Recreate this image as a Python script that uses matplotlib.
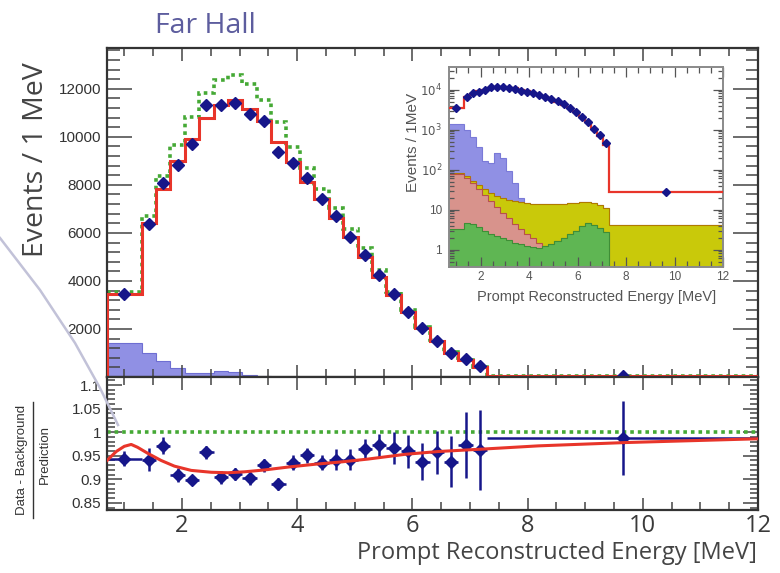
import matplotlib
matplotlib.use("Agg")
import matplotlib.pyplot as plt
import numpy as np
from matplotlib.lines import Line2D
from matplotlib.ticker import FixedLocator, MultipleLocator, LogLocator, FuncFormatter, NullFormatter

plt.rcParams['font.family'] = ['Liberation Sans', 'DejaVu Sans']

# ============================================================
# values
# ============================================================
bin_edges = [0.7, 1.3, 1.55, 1.8, 2.05, 2.3, 2.55, 2.8, 3.05, 3.3, 3.55, 3.8,
             4.05, 4.3, 4.55, 4.8, 5.05, 5.3, 5.55, 5.8, 6.05, 6.3, 6.55, 6.8,
             7.05, 7.3, 12.0]

# events / 1 MeV
data_counts = [3470, 6365, 8085, 8815, 9700, 11310, 11310, 11420, 10960, 10640,
               9380, 8930, 8300, 7420, 6690, 5850, 5080, 4240, 3440, 2700,
               2040, 1510, 1020, 740, 460, 27]
pred_osc = [3470, 6410, 7840, 9000, 9910, 10780, 11310, 11520, 11170, 10680,
            9770, 8960, 8120, 7420, 6620, 5850, 5010, 4170, 3400, 2700,
            2040, 1510, 1020, 700, 420, 27]
pred_noosc = [3530, 6690, 8370, 9660, 10820, 11840, 12360, 12570, 12220, 11520,
              10610, 9560, 8720, 7810, 7040, 6160, 5360, 4450, 3540, 2770,
              2100, 1550, 1040, 720, 430, 28]

# stacked backgrounds (cumulative heights)
stack_blue = [1400, 980, 660, 370, 160, 150, 260, 200, 90, 45,
              20, 14.5, 14, 13.7, 13.5, 13.5, 13.5, 14, 14.5, 15,
              15.4, 15.7, 14.5, 12.7, 11.2, 4.1]
stack_yellow = [80, 68, 53, 41, 32, 26, 22.4, 19.6, 17.8, 16.4,
                15.4, 14.5, 14, 13.7, 13.5, 13.5, 13.5, 14, 14.5, 15,
                15.4, 15.7, 14.5, 12.7, 11.2, 4.1]
stack_pink = [76, 60, 45, 32, 23, 16.4, 11.6, 8.2, 6.0, 4.3,
              3.2, 2.4, 1.9, 1.46, 1.25, 1.4, 1.6, 1.9, 2.4, 3.0,
              3.8, 4.5, 4.1, 3.4, 2.8, 0.0]
stack_green = [3.3, 4.5, 4.3, 3.6, 3.0, 2.5, 2.2, 1.9, 1.7, 1.5,
               1.4, 1.25, 1.15, 1.1, 1.2, 1.4, 1.6, 1.9, 2.4, 3.0,
               3.8, 4.5, 4.1, 3.4, 2.8, 0.0]

# (data - background) / prediction
ratio_vals = [0.944, 0.942, 0.971, 0.910, 0.899, 0.957, 0.904, 0.912, 0.902, 0.930,
              0.890, 0.935, 0.951, 0.935, 0.942, 0.942, 0.964, 0.972, 0.966, 0.960,
              0.937, 0.957, 0.937, 0.973, 0.962, 0.988]
ratio_errs = [0.016, 0.025, 0.018, 0.015, 0.011, 0.014, 0.013, 0.013, 0.014, 0.014,
              0.013, 0.016, 0.016, 0.016, 0.022, 0.022, 0.021, 0.025, 0.034, 0.035,
              0.039, 0.045, 0.054, 0.070, 0.085, 0.078]

# oscillated / unoscillated prediction
curve_E = [0.7, 0.86, 1.0, 1.12, 1.23, 1.41, 1.64, 1.87, 2.16, 2.51, 2.80, 3.09,
           3.44, 3.84, 4.31, 4.77, 5.23, 5.87, 6.45, 7.20, 8.19, 9.70, 12.0]
curve_ratio = [0.940, 0.959, 0.970, 0.974, 0.968, 0.955, 0.940, 0.928, 0.919, 0.915,
               0.914, 0.916, 0.920, 0.926, 0.932, 0.937, 0.943, 0.953, 0.959, 0.964,
               0.971, 0.978, 0.986]

# ============================================================
# colours
# ============================================================
C_DATA = '#16168a'
C_RED = '#e8352a'
C_GREEN = '#45a935'
C_BLUE = '#9090e4'
C_YELLOW = '#c9c90a'
C_PINK = '#d8938c'
C_GFILL = '#5fb653'
C_TICK = '#444444'

edges = np.array(bin_edges)
centres = 0.5 * (edges[:-1] + edges[1:])
half_w = 0.5 * np.diff(edges)

fig = plt.figure(figsize=(7.8, 5.73), dpi=100)
W, H = 780.0, 573.0


def fbox(x0, y0, x1, y1):
    """pixel box (top-left origin) -> figure rect"""
    return [x0 / W, 1 - y1 / H, (x1 - x0) / W, (y1 - y0) / H]


ax_top = fig.add_axes(fbox(107, 48, 758, 377))
ax_bot = fig.add_axes(fbox(107, 377, 758, 510))
ax_in = fig.add_axes(fbox(449, 67, 723, 267))

for ax in (ax_top, ax_bot):
    for s in ax.spines.values():
        s.set_color('#333333')
        s.set_linewidth(1.6)

# --- upper panel ---
ax_top.stairs(stack_blue, edges, fill=True, color=C_BLUE, zorder=1)
ax_top.stairs(stack_blue, edges, baseline=None, color='#6e6ed2', lw=0.8, zorder=1.5)
ax_top.stairs(pred_noosc, edges, baseline=None, color=C_GREEN, lw=2.6,
              linestyle=(0, (1, 1.1)), zorder=2)
ax_top.stairs(pred_osc, edges, color=C_RED, lw=2.2, zorder=3)
ax_top.plot(centres, data_counts, 'D', ms=6, color=C_DATA, zorder=4, clip_on=False)

ax_top.set_xlim(0.7, 12)
ax_top.set_ylim(0, 13700)
ax_top.xaxis.set_major_locator(MultipleLocator(2))
ax_top.xaxis.set_minor_locator(MultipleLocator(0.5))
ax_top.yaxis.set_major_locator(FixedLocator([2000, 4000, 6000, 8000, 10000, 12000]))
ax_top.yaxis.set_minor_locator(MultipleLocator(400))
ax_top.tick_params(which='both', direction='in', top=True, right=True,
                   color=C_TICK, width=1.1, labelbottom=False,
                   labelsize=11, labelcolor='#333333', pad=4)
ax_top.tick_params(axis='y', which='major', length=18)
ax_top.tick_params(axis='y', which='minor', length=9)
ax_top.tick_params(axis='x', which='major', length=9)
ax_top.tick_params(axis='x', which='minor', length=5.5)

# --- ratio panel ---
ax_bot.axhline(1.0, color=C_GREEN, lw=2.6, linestyle=(0, (1, 1.1)), zorder=2)
ax_bot.errorbar(centres, ratio_vals, xerr=half_w, yerr=ratio_errs, fmt='D', ms=6,
                color=C_DATA, ecolor=C_DATA, elinewidth=1.8, capsize=0, zorder=3)
ax_bot.plot(curve_E, curve_ratio, color=C_RED, lw=2.2, zorder=3.5)

ax_bot.set_xlim(0.7, 12)
ax_bot.set_ylim(0.835, 1.117)
ax_bot.xaxis.set_major_locator(MultipleLocator(2))
ax_bot.xaxis.set_minor_locator(MultipleLocator(0.5))
ax_bot.xaxis.set_major_formatter(FuncFormatter(lambda v, _: f'{v:g}'))
ax_bot.yaxis.set_major_locator(FixedLocator([0.85, 0.9, 0.95, 1.0, 1.05, 1.1]))
ax_bot.yaxis.set_minor_locator(MultipleLocator(0.01))
ax_bot.yaxis.set_major_formatter(FuncFormatter(lambda v, _: f'{v:g}'))
ax_bot.tick_params(which='both', direction='in', top=True, right=True,
                   color=C_TICK, width=1.1, labelcolor='#333333')
ax_bot.tick_params(axis='y', which='major', length=11, labelsize=11, pad=4)
ax_bot.tick_params(axis='y', which='minor', length=5.5)
ax_bot.tick_params(axis='x', which='major', length=9, labelsize=17, pad=3,
                   labelfontfamily='Open Sans', labelcolor='#3a3a3a')
ax_bot.tick_params(axis='x', which='minor', length=5.5)

# --- inset (log) ---
ax_in.set_zorder(5)
ax_in.set_facecolor('white')
ax_in.set_yscale('log')
y_low = 0.367
ax_in.set_xlim(0.7, 12)
ax_in.set_ylim(y_low, 36700)
ax_in.axhspan(y_low, 0.79, color='#9c9c9c', zorder=0.5)

layers = [(stack_blue, C_BLUE, '#7a7ad8'),
          (stack_yellow, C_YELLOW, '#b07a00'),
          (stack_pink, C_PINK, '#b8504a'),
          (stack_green, C_GFILL, '#3e8e36')]
for i, (vals, fc, ec) in enumerate(layers):
    v = np.clip(vals, y_low, None)
    ax_in.stairs(v, edges, baseline=y_low, fill=True, color=fc, zorder=1 + i * 0.1)
    ax_in.stairs(v, edges, baseline=None, color=ec, lw=0.8, zorder=1.05 + i * 0.1)

ax_in.stairs(pred_osc, edges, baseline=None, color=C_RED, lw=1.6, zorder=3)
ax_in.plot(centres, data_counts, 'D', ms=4, color=C_DATA, zorder=4)

ax_in.xaxis.set_major_locator(MultipleLocator(2))
ax_in.xaxis.set_minor_locator(MultipleLocator(0.5))
ax_in.yaxis.set_major_locator(FixedLocator([1, 10, 100, 1000, 10000]))
ax_in.yaxis.set_minor_locator(LogLocator(base=10, subs=np.arange(2, 10)))
ax_in.yaxis.set_minor_formatter(NullFormatter())
ax_in.yaxis.set_major_formatter(FuncFormatter(
    lambda v, _: f'{v:g}' if v < 50 else r'$10^{%d}$' % round(np.log10(v))))
ax_in.tick_params(which='both', direction='in', top=True, right=True,
                  color='#555555', width=0.9, labelsize=8.5, labelcolor='#555555')
ax_in.tick_params(axis='x', which='major', length=7, pad=3)
ax_in.tick_params(axis='x', which='minor', length=4)
ax_in.tick_params(axis='y', which='major', length=7, pad=5)
ax_in.tick_params(axis='y', which='minor', length=3.5)
for s in ax_in.spines.values():
    s.set_color('#8a8a8a')
    s.set_linewidth(1.4)

fig.text(413 / W, 1 - 142 / H, 'Events / 1MeV', rotation=90, ha='center', va='center',
         fontsize=11, color='#555555', zorder=6)
fig.text(597 / W, 1 - 297 / H, 'Prompt Reconstructed Energy [MeV]', ha='center',
         va='center', fontsize=10.5, color='#555555', zorder=6)

# --- titles and axis labels ---
fig.text(155 / W, 1 - 26 / H, 'Far Hall', ha='left', va='center', fontsize=20.5,
         color='#5d5d9e', family='Open Sans')
fig.text(36 / W, 1 - 160 / H, 'Events / 1 MeV', rotation=90, ha='center', va='center',
         fontsize=20.5, color='#444444', family='Open Sans')
fig.text(757 / W, 1 - 553 / H, 'Prompt Reconstructed Energy [MeV]', ha='right',
         va='center', fontsize=17, color='#444444', family='Open Sans')

fig.text(22 / W, 1 - 460 / H, 'Data - Background', rotation=90, ha='center',
         va='center', fontsize=9.5, color='#333333')
fig.text(45 / W, 1 - 455 / H, 'Prediction', rotation=90, ha='center',
         va='center', fontsize=9.5, color='#333333')
fig.add_artist(Line2D([33 / W, 33 / W], [1 - 402 / H, 1 - 518 / H],
                      transform=fig.transFigure, color='#333333', lw=1))

# slide decoration: faint swoosh on the left
fig.add_artist(Line2D([0 / W, 40 / W, 75 / W, 100 / W, 118 / W],
                      [1 - 238 / H, 1 - 290 / H, 1 - 343 / H, 1 - 388 / H, 1 - 425 / H],
                      transform=fig.transFigure, color='#c2c2d8', lw=1.8, zorder=10))

fig.savefig('out.png', dpi=100)
